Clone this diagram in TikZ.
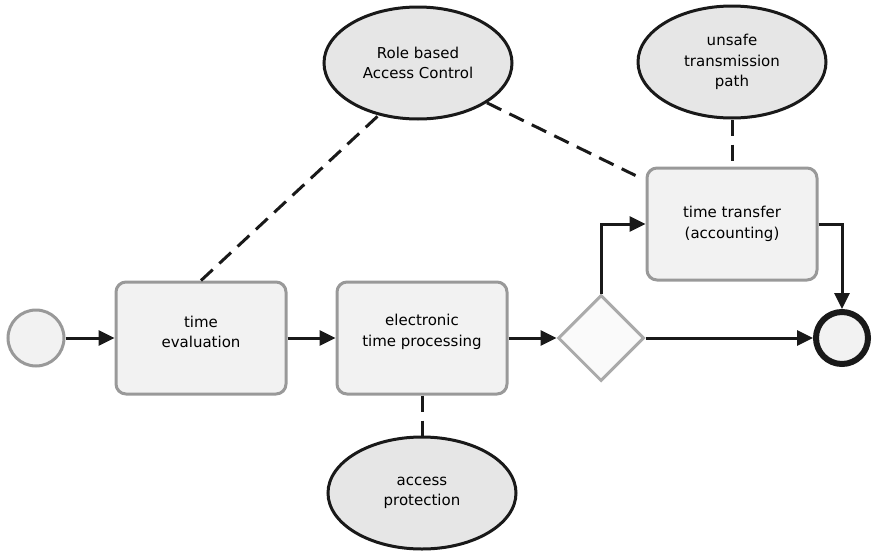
\documentclass[tikz,border=0pt]{standalone}
\usepackage{fontspec}
\setmainfont{DejaVu Sans}
\usetikzlibrary{arrows.meta,shapes.geometric}
\definecolor{taskfill}{HTML}{F2F2F2}
\definecolor{taskline}{HTML}{999999}
\definecolor{gatefill}{HTML}{FAFAFA}
\definecolor{gateline}{HTML}{AAAAAA}
\definecolor{notefill}{HTML}{E6E6E6}
\begin{document}
\begin{tikzpicture}[x=1pt,y=-1pt,
  every node/.style={font=\fontsize{15}{20.5}\selectfont, align=center},
  task/.style={draw=taskline, fill=taskfill, line width=3pt, rounded corners=10pt,
    minimum width=170pt, minimum height=112pt, inner sep=0pt},
  startev/.style={circle, draw=taskline, fill=taskfill, line width=3pt,
    minimum size=56pt, inner sep=0pt},
  endev/.style={circle, draw=black!90, fill=taskfill, line width=6pt,
    minimum size=52pt, inner sep=0pt},
  gate/.style={diamond, draw=gateline, fill=gatefill, line width=3pt,
    minimum width=86pt, minimum height=86pt, inner sep=0pt, aspect=1},
  note/.style={ellipse, draw=black!90, fill=notefill, line width=3pt,
    minimum width=188pt, minimum height=112pt, inner sep=0pt},
  flow/.style={draw=black!90, line width=3pt,
    -{Triangle[length=16pt,width=15pt]}},
  assoc/.style={draw=black!90, line width=3pt, dash pattern=on 16pt off 9pt}]
\useasboundingbox (0,0) rectangle (873,552);

% flow objects
\node[startev] (start) at (36,338) {};
\node[task, label={[yshift=6pt]center:time\\evaluation}] (eval) at (201,338) {};
\node[task, label={[yshift=6pt]center:electronic\\time processing}] (proc) at (422,338) {};
\node[gate] (gw) at (601,338) {};
\node[task] (transfer) at (732,224) {time transfer\\(accounting)};
\node[endev] (stop) at (842,338) {};

% annotations
\node[note] (rbac) at (418,63) {Role based\\Access Control};
\node[note] (unsafe) at (732,62) {unsafe\\transmission\\path};
\node[note] (prot) at (422,493) {access\\protection};

% sequence flows
\draw[flow] (start) -- (eval);
\draw[flow] (eval) -- (proc);
\draw[flow] (proc) -- (gw);
\draw[flow] (gw.north) |- (transfer.west);
\draw[flow] (gw.east) -- (stop.west);
\draw[flow] (transfer.east) -| (stop.north);

% associations
\draw[assoc] (eval.north) -- (rbac.-127);
\draw[assoc] (rbac.-30) -- ([xshift=-10pt,yshift=-9pt]transfer.north west);
\draw[assoc] (unsafe.south) -- (transfer.north);
\draw[assoc] (proc.south) -- (prot.north);
\end{tikzpicture}
\end{document}
